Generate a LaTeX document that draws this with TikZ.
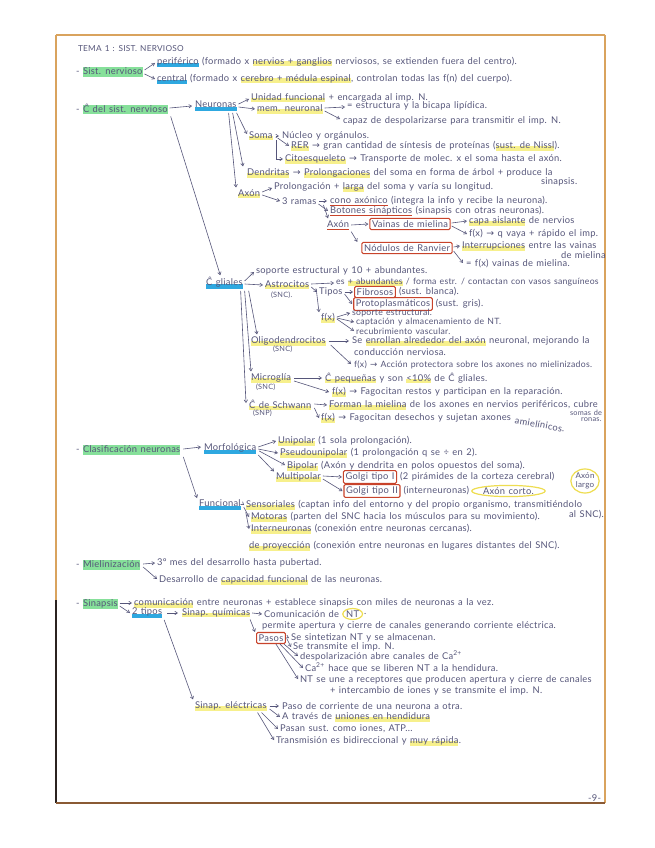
\documentclass[tikz,border=0pt]{standalone}
\usepackage{fontspec}
\setmainfont{Lato}[LetterSpace=3.0,WordSpace=1.3]
\newfontfamily\symf{DejaVu Sans}
\usetikzlibrary{arrows.meta,calc,shapes.geometric}
\definecolor{ink}{HTML}{56567A}
\definecolor{hy}{HTML}{F7F08C}
\definecolor{hb}{HTML}{2EA8E0}
\definecolor{hg}{HTML}{86E09A}
\definecolor{rink}{HTML}{C8432B}
\definecolor{yc}{HTML}{EEDD50}
\definecolor{pagetan}{HTML}{D9A35E}
\definecolor{pagedark}{HTML}{2B2320}
\definecolor{pagebrown}{HTML}{8A5A34}
\newlength\hlw
\newcommand\hly[1]{\settowidth\hlw{#1}\rlap{\textcolor{hy}{\rule[-1.6pt]{\hlw}{3.6pt}}}#1}
\newcommand\hlb[1]{\settowidth\hlw{#1}\rlap{\textcolor{hb}{\rule[-2.2pt]{\hlw}{3.2pt}}}#1}
\newcommand\hlg[1]{\settowidth\hlw{#1}\rlap{\textcolor{hg}{\rule[-1.8pt]{\hlw}{7.2pt}}}#1}
\newcommand\ulr[1]{\settowidth\hlw{#1}\rlap{\textcolor{rink}{\rule[-1.9pt]{\hlw}{0.6pt}}}#1}
\newcommand\ra{{\symf\char"2192}}
\tikzset{
  tx/.style={anchor=west, inner sep=0.6pt, text=ink, font=\fontsize{7}{8}\selectfont},
  smallt/.style={font=\fontsize{5.5}{6}\selectfont},
  midt/.style={font=\fontsize{6.5}{7}\selectfont},
  arr/.style={draw=ink, line width=0.45pt, -{Straight Barb[length=2pt,width=2.6pt]}},
  rb/.style={tx, anchor=center, draw=rink, line width=0.8pt, inner sep=1.6pt, rounded corners=1pt},
  yel/.style={tx, anchor=center, ellipse, draw=yc, line width=0.9pt, inner sep=0.4pt},
}
\begin{document}
\begin{tikzpicture}[x=0.75pt,y=-0.75pt]
\useasboundingbox (0,0) rectangle (655,848);
\fill[white] (0,0) rectangle (655,848);
% page sheet
\fill[white] (56,35) rectangle (605,803);
\draw[pagetan, line width=1.2pt] (56,35) -- (605,35);
\draw[pagetan, line width=2.2pt] (605,35) -- (605,803);
\draw[pagetan, line width=1.5pt] (56,35) -- (56,600);
\draw[pagedark, line width=2pt] (56,600) -- (56,803);
\draw[pagebrown, line width=2pt] (56,803) -- (605,803);
\begin{scope}
\clip (57,36) rectangle (604,802);
% ---------- title and sist. nervioso
\node[tx, font=\fontsize{6.2}{7}\selectfont] (title) at (77,49) {TEMA 1 : SIST. NERVIOSO};
\node[tx] (sn) at (75,72) {- \hlg{Sist. nervioso}};
\node[tx] (per) at (156,62) {\hlb{periférico} (formado x \hly{nervios + ganglios} nerviosos, se extienden fuera del centro).};
\node[tx] (cen) at (156,79) {\hlb{central} (formado x \hly{cerebro + médula espinal}, controlan todas las f(n) del cuerpo).};
% ---------- celulas / neuronas
\node[tx] (cdsn) at (75,109) {- \hlg{Ĉ del sist. nervioso}};
\node[tx] (neu) at (194,106) {\hlb{Neuronas}};
\node[tx] (uf) at (250,98) {\hly{Unidad funcional} + encargada al imp. N.};
\node[tx] (mem) at (256,109) {\hly{mem. neuronal}};
\node[tx] (est) at (346,106) {= estructura y la bicapa lipídica.};
\node[tx] (cap) at (342,121) {capaz de despolarizarse para transmitir el imp. N.};
\node[tx] (soma) at (248,136) {\hly{Soma}};
\node[tx] (nuc) at (281,136) {Núcleo y orgánulos.};
\node[tx] (rer) at (290,146) {\hly{RER} \ra{} gran cantidad de síntesis de proteínas (\hly{sust. de Nissl}).};
\node[tx] (cit) at (284,159) {\hly{Citoesqueleto} \ra{} Transporte de molec. x el soma hasta el axón.};
\node[tx] (den) at (246,173) {\hly{Dendritas} \ra{} \hly{Prolongaciones} del soma en forma de árbol + produce la};
\node[tx] (den2) at (540,182) {sinapsis.};
\node[tx] (prol) at (273,187) {Prolongación + \hly{larga} del soma y varía su longitud.};
\node[tx] (axon) at (237,194) {\hly{Axón}};
\node[tx] (ram) at (281,201) {3 ramas};
\node[tx] (cono) at (329,201) {\ulr{cono axónico} (integra la info y recibe la neurona).};
\node[tx] (bot) at (329,211) {\ulr{Botones sinápticos} (sinapsis con otras neuronas).};
\node[tx] (axr) at (326,225) {\ulr{Axón}};
\node[rb] (vain) at (410,224) {Vainas de mielina};
\node[tx] (capa) at (468,221) {\hly{capa aislante} de nervios};
\node[tx] (fx1) at (468,234) {f(x) \ra{} q vaya + rápido el imp.};
\node[rb] (nod) at (407,248) {Nódulos de Ranvier};
\node[tx] (intr) at (461,246) {\hly{Interrupciones} entre las vainas};
\node[tx] (intr2) at (560,255) {de mielina};
\node[tx] (eqf) at (465,264) {= f(x) vainas de mielina.};
% ---------- glia
\node[tx] (cgl) at (205,283) {\hlb{Ĉ gliales}};
\node[tx] (sop) at (255,271) {soporte estructural y 10 + abundantes.};
\node[tx] (ast) at (264,285) {\hly{Astrocitos}};
\node[tx,smallt] (astsnc) at (270,295) {(SNC).};
\node[tx,midt] (esab) at (335,282) {es \hly{+ abundantes} / forma estr. / contactan con vasos sanguíneos};
\node[tx] (tip) at (318,292) {Tipos};
\node[rb] (fib) at (375,292) {Fibrosos};
\node[tx] (fibt) at ($(fib.east)+(2,0)$) {(sust. blanca).};
\node[rb] (pro) at (393,304) {Protoplasmáticos};
\node[tx] (prot) at ($(pro.east)+(2,0)$) {(sust. gris).};
\node[tx] (fxa) at (320,318) {\hly{f(x)}};
\node[tx,midt] (sope) at (351,313) {soporte estructural.};
\node[tx,midt] (capt) at (355,322) {captación y almacenamiento de NT.};
\node[tx,midt] (recu) at (355,331) {recubrimiento vascular.};
\node[tx] (olig) at (250,341) {\hly{Oligodendrocitos}};
\node[tx,smallt] (oligsnc) at (272,349) {(SNC)};
\node[tx] (enr) at (351,341) {Se \hly{enrollan alrededor del axón} neuronal, mejorando la};
\node[tx] (cond) at (353,352) {conducción nerviosa.};
\node[tx,midt] (fxo) at (353,365) {f(x) \ra{} Acción protectora sobre los axones no mielinizados.};
\node[tx] (mic) at (250,378) {\hly{Microglía}};
\node[tx,smallt] (micsnc) at (255,387) {(SNC)};
\node[tx] (pequ) at (324,378) {\hly{Ĉ pequeñas} y son \hly{<10\%} de Ĉ gliales.};
\node[tx] (fxm) at (331,392) {\hly{f(x)} \ra{} Fagocitan restos y participan en la reparación.};
\node[tx] (sch) at (248,405) {\hly{Ĉ de Schwann}};
\node[tx,smallt] (schsnp) at (252,413) {(SNP)};
\node[tx] (forman) at (328,405) {\hly{Forman la mielina} de los axones en nervios periféricos, cubre};
\node[tx,smallt] (somas) at (569,413) {somas de neu-};
\node[tx,smallt] (ronas) at (580,420) {ronas.};
\node[tx] (fxs) at (320,418) {\hly{f(x)} \ra{} Fagocitan desechos y sujetan axones};
\node[tx,rotate=-10] (amie) at (514,420) {amielínicos.};
% ---------- clasificacion
\node[tx] (clas) at (75,450) {- \hlg{Clasificación neuronas}};
\node[tx] (morf) at (203,449) {\hlb{Morfológica}};
\node[tx] (uni) at (277,441) {\hly{Unipolar} (1 sola prolongación).};
\node[tx] (pse) at (279,453) {\hly{Pseudounipolar} (1 prolongación q se ÷ en 2).};
\node[tx] (bip) at (286,466) {\hly{Bipolar} (Axón y dendrita en polos opuestos del soma).};
\node[tx] (mult) at (275,477) {\hly{Multipolar}};
\node[rb] (g1) at (370,477) {Golgi tipo I};
\node[tx] (g1t) at ($(g1.east)+(2,0)$) {(2 pirámides de la corteza cerebral)};
\node[yel, align=center, font=\fontsize{6}{6.5}\selectfont] (axl) at (585,481) {Axón\\largo};
\node[rb] (g2) at (372,491) {Golgi tipo II};
\node[tx] (g2t) at ($(g2.east)+(2,0)$) {(interneuronas)};
\node[yel, anchor=west] (axc) at ($(g2t.east)+(1,0)$) {Axón corto.};
\node[tx] (func) at (198,505) {\hlb{Funcional}};
\node[tx] (sens) at (245,505) {\hly{Sensoriales} (captan info del entorno y del propio organismo, transmitiéndolo};
\node[tx] (sensal) at (568,515) {al SNC).};
\node[tx] (mot) at (250,517) {\hly{Motoras} (parten del SNC hacia los músculos para su movimiento).};
\node[tx] (inter) at (250,529) {\hly{Interneuronas} (conexión entre neuronas cercanas).};
\node[tx] (proy) at (248,546) {\hly{de proyección} (conexión entre neuronas en lugares distantes del SNC).};
% ---------- mielinizacion
\node[tx] (miel) at (75,565) {- \hlg{Mielinización}};
\node[tx] (mes) at (156,563) {3º mes del desarrollo hasta pubertad.};
\node[tx] (des) at (158,580) {Desarrollo de \hly{capacidad funcional} de las neuronas.};
% ---------- sinapsis
\node[tx] (sin) at (75,604) {- \hlg{Sinapsis}};
\node[tx] (com) at (133,603) {\hly{comunicación} entre neuronas + establece sinapsis con miles de neuronas a la vez.};
\node[tx] (dos) at (131,613) {\hlb{2 tipos}};
\node[tx] (quim) at (181,613) {\hly{Sinap. químicas}};
\node[tx] (comnt) at (263,614) {Comunicación de};
\node[yel, anchor=west] (nt) at ($(comnt.east)+(2,0)$) {NT};
\node[tx] (ntdot) at (nt.east) {.};
\node[tx] (perm) at (261,626) {permite apertura y cierre de canales generando corriente eléctrica.};
\node[rb] (pasos) at (271,638) {Pasos};
\node[tx] (ss1) at (290,638) {Se sintetizan NT y se almacenan.};
\node[tx] (ss2) at (292,647) {Se transmite el imp. N.};
\node[tx] (desp) at (299,656) {despolarización abre canales de Ca\textsuperscript{2+}};
\node[tx] (ca) at (304,668) {Ca\textsuperscript{2+} hace que se liberen NT a la hendidura.};
\node[tx] (ntse) at (299,680) {NT se une a receptores que producen apertura y cierre de canales};
\node[tx] (int2) at (329,691) {+ intercambio de iones y se transmite el imp. N.};
\node[tx] (elec) at (194,706) {\hly{Sinap. eléctricas}};
\node[tx] (paso) at (281,706) {Paso de corriente de una neurona a otra.};
\node[tx] (atr) at (281,717) {A través de \hly{uniones en hendidura}};
\node[tx] (pasan) at (279,729) {Pasan sust. como iones, ATP...};
\node[tx] (trans) at (275,741) {Transmisión es bidireccional y \hly{muy rápida}.};
\node[tx] (pnum) at (587,798) {-9-};
% ---------- connectors
\draw[arr] ($(sn.east)+(1,-2)$) -- ($(per.west)+(-1,1)$);
\draw[arr] ($(sn.east)+(1,2)$) -- ($(cen.west)+(-1,0)$);
\draw[arr] ($(cdsn.east)+(1,-1)$) -- ($(neu.west)+(-2,0)$);
\draw[arr] ($(cdsn.south east)+(2,1)$) -- ($(cgl.north)+(-4,-1)$);
\draw[arr] ($(neu.east)+(1,-2)$) -- ($(uf.west)+(-1,1)$);
\draw[arr] ($(neu.east)+(1,1)$) -- ($(mem.west)+(-1,0)$);
\draw[arr] ($(neu.south east)+(-1,1)$) -- ($(soma.west)+(-1,-2)$);
\draw[arr] ($(neu.south east)+(-5,1)$) -- ($(den.north west)+(-3,-1)$);
\draw[arr] ($(neu.south east)+(-9,1)$) -- ($(axon.north west)+(-1,-1)$);
\draw[arr] ($(mem.east)+(1,-1)$) -- ($(est.west)+(-1,1)$);
\draw[arr] ($(mem.east)+(1,2)$) -- ($(cap.west)+(-2,-2)$);
\draw[arr] ($(soma.east)+(2,0)$) -- ($(nuc.west)+(-2,0)$);
\draw[arr] ($(soma.east)+(4,2)$) -- ($(rer.west)+(-1,0)$);
\draw[arr] ($(soma.east)+(3,4)$) |- ($(cit.west)+(-1,0)$);
\draw[arr] ($(axon.east)+(1,-2)$) -- ($(prol.west)+(-1,1)$);
\draw[arr] ($(axon.east)+(1,1)$) -- ($(ram.west)+(-1,0)$);
\draw[arr] ($(ram.east)+(2,0)$) -- ($(cono.west)+(-2,0)$);
\draw[arr] ($(ram.east)+(1,3)$) -- ($(bot.west)+(-1,0)$);
\draw[arr] ($(ram.east)+(6,4)$) -- ($(axr.north west)+(2,-1)$);
\draw[arr] ($(axr.east)+(1,0)$) -- ($(vain.west)+(-1,0)$);
\draw[arr] ($(axr.south east)+(1,1)$) -- ($(nod.north west)+(-4,0)$);
\draw[arr] ($(vain.east)+(1,-1)$) -- ($(capa.west)+(-1,0)$);
\draw[arr] ($(vain.east)+(1,2)$) -- ($(fx1.west)+(-1,0)$);
\draw[arr] ($(nod.east)+(1,-1)$) -- ($(intr.west)+(-1,0)$);
\draw[arr] ($(nod.east)+(1,3)$) -- ($(eqf.west)+(-2,-1)$);
\draw[arr] ($(cgl.east)+(1,-2)$) -- ($(sop.west)+(-1,1)$);
\draw[arr] ($(cgl.east)+(1,1)$) -- ($(ast.west)+(-1,0)$);
\draw[arr] ($(cgl.south east)+(5,1)$) -- ($(olig.north west)+(7,-1)$);
\draw[arr] ($(cgl.south east)+(1,1)$) -- ($(mic.north west)+(1,-1)$);
\draw[arr] ($(cgl.south east)+(-3,1)$) -- ($(sch.west)+(-2,-2)$);
\draw[arr] ($(ast.east)+(1,-1)$) -- ($(esab.west)+(-1,1)$);
\draw[arr] ($(ast.east)+(1,2)$) -- ($(tip.west)+(-1,0)$);
\draw[arr] ($(ast.east)+(6,4)$) -- ($(fxa.north west)+(-1,0)$);
\draw[arr] ($(tip.east)+(1,0)$) -- ($(fib.west)+(-1,0)$);
\draw[arr] ($(tip.east)+(1,2)$) -- ($(pro.west)+(-1,0)$);
\draw[arr] ($(fxa.east)+(1,-1)$) -- ($(sope.west)+(-1,0)$);
\draw[arr] ($(fxa.east)+(1,0)$) -- ($(capt.west)+(-1,0)$);
\draw[arr] ($(fxa.east)+(1,1)$) -- ($(recu.west)+(-1,0)$);
\draw[arr] ($(olig.east)+(2,0)$) -- ($(enr.west)+(-2,0)$);
\draw[arr] ($(olig.east)+(4,4)$) -- ($(fxo.west)+(-2,-1)$);
\draw[arr] ($(mic.east)+(2,0)$) -- ($(pequ.west)+(-2,0)$);
\draw[arr] ($(mic.east)+(2,3)$) -- ($(fxm.west)+(-2,0)$);
\draw[arr] ($(sch.east)+(2,-1)$) -- ($(forman.west)+(-1,0)$);
\draw[arr] ($(sch.east)+(2,3)$) -- ($(fxs.west)+(-1,0)$);
\draw[arr] ($(clas.east)+(2,-1)$) -- ($(morf.west)+(-2,-2)$);
\draw[arr] ($(clas.south east)+(2,1)$) -- ($(func.north west)+(-1,-1)$);
\draw[arr] ($(morf.east)+(1,-2)$) -- ($(uni.west)+(-1,0)$);
\draw[arr] ($(morf.east)+(1,0)$) -- ($(pse.west)+(-1,0)$);
\draw[arr] ($(morf.east)+(2,2)$) -- ($(bip.west)+(-1,-1)$);
\draw[arr] ($(morf.south east)+(1,0)$) -- ($(mult.north west)+(-1,0)$);
\draw[arr] ($(mult.east)+(1,-1)$) -- ($(g1.west)+(-1,0)$);
\draw[arr] ($(mult.east)+(1,2)$) -- ($(g2.west)+(-1,0)$);
\draw[arr] ($(func.east)+(1,-1)$) -- ($(sens.west)+(-1,0)$);
\draw[arr] ($(func.east)+(2,2)$) -- ($(mot.west)+(-1,0)$);
\draw[arr] ($(func.south east)+(4,1)$) -- ($(inter.west)+(-1,0)$);
\draw[arr] ($(miel.east)+(2,-1)$) -- ($(mes.west)+(-1,0)$);
\draw[arr] ($(miel.east)+(2,2)$) -- ($(des.west)+(-1,-1)$);
\draw[arr] ($(sin.east)+(1,-1)$) -- ($(com.west)+(-1,0)$);
\draw[arr] ($(sin.east)+(1,2)$) -- ($(dos.west)+(-1,0)$);
\draw[arr] ($(dos.east)+(4,0)$) -- ($(quim.west)+(-3,0)$);
\draw[arr] ($(dos.south east)+(1,1)$) -- ($(elec.north west)+(-1,-1)$);
\draw[arr] ($(quim.east)+(1,0)$) -- ($(comnt.west)+(-1,0)$);
\draw[arr] ($(quim.south east)+(-1,1)$) -- ($(pasos.north west)+(-1,0)$);
\draw[arr] ($(pasos.east)+(1,-1)$) -- ($(ss1.west)+(-1,0)$);
\draw[arr] ($(pasos.east)+(1,1)$) -- ($(ss2.west)+(-1,0)$);
\draw[arr] ($(pasos.south east)+(-2,0)$) -- ($(desp.west)+(-1,0)$);
\draw[arr] ($(pasos.south east)+(-6,0)$) -- ($(ca.west)+(-1,0)$);
\draw[arr] ($(pasos.south east)+(-10,0)$) -- ($(ntse.west)+(-1,-1)$);
\draw[arr] ($(elec.east)+(2,0)$) -- ($(paso.west)+(-2,0)$);
\draw[arr] ($(elec.east)+(2,3)$) -- ($(atr.west)+(-1,0)$);
\draw[arr] ($(elec.south east)+(-6,1)$) -- ($(pasan.west)+(-1,0)$);
\draw[arr] ($(elec.south east)+(-10,1)$) -- ($(trans.west)+(-1,-1)$);
\end{scope}
\end{tikzpicture}
\end{document}
